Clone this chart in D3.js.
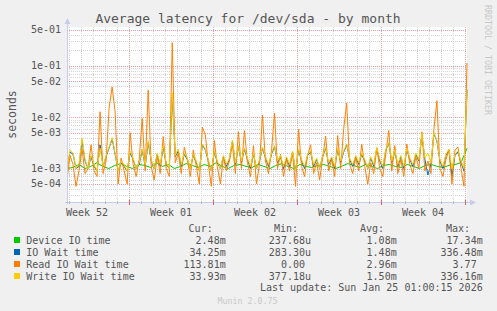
<!DOCTYPE html>
<meta charset="utf-8">
<script src="https://d3js.org/d3.v7.min.js"></script>
<style>
  body { margin: 0; background: #f0f0f0; }
  text { font-family: "DejaVu Sans Mono", monospace; }
</style>
<div id="chart"></div>
<script>

// series names and colours (munin palette)
const seriesNames = ["Device IO time", "IO Wait time", "Read IO Wait time", "Write IO Wait time"];
const seriesColors = ["#00cc00", "#0066b3", "#ff8000", "#ffcc00"];

// values in milliseconds, evenly spaced over the month
const deviceMs = [1.0, 1.05, 1.2, 1.0, 1.1, 1.3, 1.1, 1.0, 1.15, 1.25, 1.1, 1.0, 1.2, 1.15, 1.05, 1.3, 1.1, 1.2, 1.0, 1.1,
  1.25, 1.15, 1.05, 1.2, 1.1, 1.3, 1.1, 1.0, 1.15, 1.2, 1.1, 1.05, 1.2, 1.1, 1.0, 1.15, 1.25, 1.1, 1.0, 1.2,
  1.1, 1.05, 1.15, 1.2, 1.1, 1.0, 1.1, 1.25, 1.15, 1.05, 1.2, 1.1, 1.0, 1.15, 1.2, 1.1, 1.05, 1.2, 1.1, 1.0,
  1.15, 1.2, 1.1, 1.05, 1.15, 1.2, 1.3, 2.48];
const ioWaitMs = [0.9, 2.1, 1.9, 1.0, 1.1, 3.5, 1.4, 1.0, 1.7, 1.1, 0.9, 2.9, 1.1, 1.7, 2.5, 3.8, 1.9, 0.9, 1.3, 1.1,
  0.9, 2.0, 1.5, 1.0, 1.2, 2.3, 1.1, 3.2, 1.4, 1.0, 1.9, 1.1, 2.6, 1.2, 1.0, 25, 1.7, 2.2, 1.1, 1.9,
  1.5, 1.0, 1.8, 1.3, 0.9, 2.9, 2.3, 1.4, 0.9, 2.1, 1.3, 1.0, 1.7, 1.1, 1.5, 3.4, 1.2, 2.7, 1.3, 2.4,
  1.5, 1.0, 1.9, 1.0, 1.4, 2.5, 1.6, 1.1, 1.9, 2.7, 1.3, 1.7, 1.0, 1.6, 1.1, 2.1, 0.9, 2.3, 1.4, 1.0,
  1.8, 2.1, 1.1, 1.5, 1.0, 1.7, 2.5, 1.2, 1.6, 1.0, 2.4, 1.3, 2.1, 2.9, 1.5, 1.1, 1.7, 1.2, 1.9, 1.4,
  1.0, 1.6, 1.1, 2.5, 1.4, 1.0, 2.3, 3.1, 1.3, 2.2, 1.1, 1.7, 1.0, 2.4, 1.5, 1.1, 1.9, 1.4, 4.6, 1.5,
  0.75, 1.2, 4.8, 3.4, 1.4, 1.0, 1.8, 2.3, 0.7, 1.8, 2.1, 1.3, 0.9, 34.25];
const readMs = [0.6, 1.8, 1.2, 0.45, 0.9, 2.4, 0.8, 1.0, 2.9, 0.9, 0.7, 12.8, 0.8, 1.4, 15, 39, 12.8, 0.5, 1.6, 0.9,
  0.5, 5, 1.2, 0.7, 1.5, 9.5, 0.9, 34, 1.1, 0.6, 1.7, 0.8, 4.2, 1.0, 0.7, 283, 1.3, 2.0, 0.8, 2.6,
  1.5, 0.7, 2.3, 1.1, 0.5, 6.4, 4.5, 1.2, 0.45, 3.5, 1.1, 0.5, 1.6, 0.9, 1.4, 3.0, 0.8, 5.2, 1.0, 5.5,
  1.3, 0.7, 2.8, 0.5, 1.2, 11, 1.4, 0.8, 2.2, 12, 1.0, 1.9, 0.7, 1.5, 0.9, 2.0, 0.45, 5.8, 1.1, 0.7,
  1.8, 2.9, 0.8, 1.3, 0.6, 1.6, 4.3, 0.9, 1.5, 0.7, 4.4, 1.0, 6, 19, 1.2, 0.8, 1.6, 0.9, 3.0, 1.1,
  0.5, 1.3, 0.8, 2.5, 1.0, 0.7, 1.9, 5.5, 0.9, 2.8, 0.8, 1.5, 0.7, 3.0, 1.2, 0.8, 1.7, 1.0, 5.2, 0.9,
  1.4, 0.8, 5.8, 21, 1.0, 0.7, 1.5, 2.3, 0.5, 2.3, 2.6, 1.0, 0.45, 113.8];
const writeMs = [0.9, 2.3, 2.0, 1.0, 1.2, 3.9, 1.5, 1.0, 1.8, 1.2, 0.9, 2.5, 1.1, 1.8, 2.6, 4.0, 2.0, 0.9, 1.4, 1.2,
  0.9, 2.2, 1.6, 1.0, 1.3, 2.4, 1.2, 3.5, 1.5, 1.0, 2.0, 1.2, 2.8, 1.3, 1.0, 30, 1.8, 2.4, 1.2, 2.0,
  1.6, 1.0, 1.9, 1.4, 0.9, 3.0, 2.4, 1.5, 0.9, 2.2, 1.4, 1.0, 1.8, 1.2, 1.6, 3.6, 1.3, 2.8, 1.4, 2.5,
  1.6, 1.1, 2.0, 1.0, 1.5, 2.6, 1.7, 1.2, 2.0, 2.8, 1.4, 1.8, 1.1, 1.7, 1.2, 2.2, 0.9, 2.4, 1.5, 1.1,
  1.9, 2.2, 1.2, 1.6, 1.0, 1.8, 2.6, 1.3, 1.7, 1.1, 2.5, 1.4, 2.2, 3.0, 1.6, 1.2, 1.8, 1.3, 2.0, 1.5,
  1.0, 1.7, 1.2, 2.6, 1.5, 1.1, 2.4, 3.2, 1.4, 2.3, 1.2, 1.8, 1.1, 2.5, 1.6, 1.2, 2.0, 1.5, 4.8, 1.6,
  2.0, 1.3, 5.0, 3.5, 1.5, 1.1, 1.9, 2.4, 1.0, 1.9, 2.2, 1.4, 1.0, 33.9];

// legend statistics
const curVals = ["2.48m", "34.25m", "113.81m", "33.93m"];
const minVals = ["237.68u", "283.30u", "0.00", "377.18u"];
const avgVals = ["1.08m", "1.48m", "2.96m", "1.50m"];
const maxVals = ["17.34m", "336.48m", "3.77", "336.16m"];

// y tick values
const yMajor = [5e-4, 1e-3, 5e-3, 1e-2, 5e-2, 1e-1, 5e-1];

const W = 497, H = 311;
const plot = {left: 67, right: 467, top: 27, bottom: 202};

const endTime = new Date(Date.UTC(2026, 0, 25, 4, 0, 0));
const startTime = new Date(endTime.getTime() - 800 * 3600 * 1000);

const svg = d3.select("#chart").append("svg")
  .attr("width", W).attr("height", H)
  .style("display", "block");

svg.append("rect").attr("width", W).attr("height", H).attr("fill", "#f0f0f0");
svg.append("rect")
  .attr("x", plot.left).attr("y", plot.top)
  .attr("width", plot.right - plot.left).attr("height", plot.bottom - plot.top)
  .attr("fill", "#ffffff");

const x = d3.scaleUtc().domain([startTime, endTime]).range([plot.left, plot.right]);
const y = d3.scaleLog().domain([2.23e-4, 0.572]).range([plot.bottom, plot.top]);

// grid: minor
const grid = svg.append("g").attr("shape-rendering", "crispEdges");
const minorY = [];
for (let e = -4; e <= -1; e++) {
  for (let m = 2; m <= 9; m++) {
    if (m === 5) continue;
    const v = m * Math.pow(10, e);
    if (v > y.domain()[0] && v < y.domain()[1]) minorY.push(v);
  }
}
grid.selectAll(".hmin").data(minorY).join("line")
  .attr("x1", plot.left).attr("x2", plot.right)
  .attr("y1", d => Math.round(y(d)) + 0.5).attr("y2", d => Math.round(y(d)) + 0.5)
  .attr("stroke", "#d4d4d4").attr("stroke-dasharray", "1,1");

const days = d3.utcDay.range(startTime, endTime);
grid.selectAll(".vmin").data(days).join("line")
  .attr("x1", d => Math.round(x(d)) + 0.5).attr("x2", d => Math.round(x(d)) + 0.5)
  .attr("y1", plot.top).attr("y2", plot.bottom)
  .attr("stroke", "#d4d4d4").attr("stroke-dasharray", "1,1");

// grid: major
grid.selectAll(".hmaj").data(yMajor).join("line")
  .attr("x1", plot.left).attr("x2", plot.right)
  .attr("y1", d => Math.round(y(d)) + 0.5).attr("y2", d => Math.round(y(d)) + 0.5)
  .attr("stroke", "#e8a0a0").attr("stroke-dasharray", "1,1");

const sundays = d3.utcSunday.range(startTime, endTime);
grid.selectAll(".vmaj").data(sundays).join("line")
  .attr("x1", d => Math.round(x(d)) + 0.5).attr("x2", d => Math.round(x(d)) + 0.5)
  .attr("y1", plot.top).attr("y2", plot.bottom)
  .attr("stroke", "#e8a0a0").attr("stroke-dasharray", "1,1");

// lines
svg.append("clipPath").attr("id", "clip")
  .append("rect").attr("x", plot.left).attr("y", plot.top - 2)
  .attr("width", plot.right - plot.left + 1).attr("height", plot.bottom - plot.top + 2);

const allSeries = [deviceMs, ioWaitMs, readMs, writeMs];
const line = d3.line().x(d => x(d.t)).y(d => y(d.v));
allSeries.forEach((vals, k) => {
  const step = (endTime - startTime) / (vals.length - 1);
  const pts = vals.map((v, i) => ({t: new Date(startTime.getTime() + i * step), v: v / 1000}));
  svg.append("path")
    .datum(pts)
    .attr("clip-path", "url(#clip)")
    .attr("fill", "none")
    .attr("stroke", seriesColors[k])
    .attr("stroke-width", 1)
    .attr("d", line);
});

// axes
const axisColor = "#c8cbec";
svg.append("line").attr("x1", plot.left + 0.5).attr("x2", plot.left + 0.5)
  .attr("y1", plot.bottom + 2).attr("y2", plot.top - 4).attr("stroke", axisColor);
svg.append("path").attr("d", `M${plot.left - 2.5},${plot.top - 3} L${plot.left + 3.5},${plot.top - 3} L${plot.left + 0.5},${plot.top - 9} Z`)
  .attr("fill", axisColor);
svg.append("line").attr("x1", plot.left - 2).attr("x2", plot.right + 4)
  .attr("y1", plot.bottom + 0.5).attr("y2", plot.bottom + 0.5).attr("stroke", axisColor);
svg.append("path").attr("d", `M${plot.right + 3},${plot.bottom - 2.5} L${plot.right + 3},${plot.bottom + 3.5} L${plot.right + 9},${plot.bottom + 0.5} Z`)
  .attr("fill", axisColor);

// axis ticks
svg.selectAll(".tmin").data(days).join("line")
  .attr("x1", d => Math.round(x(d)) + 0.5).attr("x2", d => Math.round(x(d)) + 0.5)
  .attr("y1", plot.bottom - 1).attr("y2", plot.bottom + 2)
  .attr("stroke", "#bbbbbb");
svg.selectAll(".tmaj").data(sundays).join("line")
  .attr("x1", d => Math.round(x(d)) + 0.5).attr("x2", d => Math.round(x(d)) + 0.5)
  .attr("y1", plot.bottom - 2).attr("y2", plot.bottom + 3)
  .attr("stroke", "#e06060");

// y labels
function fmtExp(v) {
  const s = v.toExponential(0).split("e");
  const e = parseInt(s[1], 10);
  return s[0] + "e" + (e < 0 ? "-" : "+") + String(Math.abs(e)).padStart(2, "0");
}
svg.selectAll(".ylab").data(yMajor).join("text")
  .attr("x", 61).attr("y", d => y(d) + 3.5)
  .attr("text-anchor", "end")
  .attr("font-size", 10).attr("fill", "#555")
  .text(fmtExp);

// x labels (week centred)
const weekStarts = d3.utcSunday.range(d3.utcSunday.offset(startTime, -1), endTime);
const weekLabels = weekStarts
  .map(s => new Date(s.getTime() + 3.5 * 86400000))
  .filter(c => x(c) > plot.left + 15 && x(c) < plot.right - 15);
svg.selectAll(".xlab").data(weekLabels).join("text")
  .attr("x", d => x(d)).attr("y", 216)
  .attr("text-anchor", "middle")
  .attr("font-size", 10).attr("fill", "#555")
  .text(d => "Week " + d3.utcFormat("%V")(d));

// title and side texts
svg.append("text").attr("x", 248).attr("y", 23)
  .attr("text-anchor", "middle").attr("font-size", 13).attr("fill", "#555")
  .text("Average latency for /dev/sda - by month");

svg.append("text")
  .attr("transform", "translate(15.5,114.5) rotate(-90)")
  .attr("text-anchor", "middle").attr("font-size", 11.5).attr("fill", "#555")
  .text("seconds");

svg.append("text")
  .attr("transform", "translate(485,5) rotate(90)")
  .attr("text-anchor", "start").attr("font-size", 8.3).attr("fill", "#c8c8c8")
  .text("RRDTOOL / TOBI OETIKER");

// legend
const legendFont = 10, charW = 6.02;
const hdr = [["Cur:", 212.7], ["Min:", 298], ["Avg:", 384], ["Max:", 470]];
svg.selectAll(".hdr").data(hdr).join("text")
  .attr("x", d => d[1]).attr("y", 231.8)
  .attr("text-anchor", "end").attr("font-size", legendFont).attr("fill", "#555")
  .text(d => d[0]);

const colRight = [225.7, 311, 396.7, 482.7];
const cols = [curVals, minVals, avgVals, maxVals];
seriesNames.forEach((name, k) => {
  const cy = 240 + k * 12;
  svg.append("rect").attr("x", 14).attr("y", cy - 3).attr("width", 6).attr("height", 6)
    .attr("fill", seriesColors[k]);
  svg.append("text").attr("x", 26.3).attr("y", cy + 3.5)
    .attr("font-size", legendFont).attr("fill", "#555").text(name);
  cols.forEach((col, c) => {
    const s = col[k];
    const hasUnit = /[a-zA-Z]$/.test(s);
    svg.append("text")
      .attr("x", colRight[c] - (hasUnit ? 0 : charW)).attr("y", cy + 3.5)
      .attr("text-anchor", "end").attr("font-size", legendFont).attr("fill", "#555")
      .text(s);
  });
});

svg.append("text").attr("x", 482.7).attr("y", 291)
  .attr("text-anchor", "end").attr("font-size", legendFont).attr("fill", "#555")
  .text("Last update: Sun Jan 25 01:00:15 2026");

svg.append("text").attr("x", 247.5).attr("y", 303.5)
  .attr("text-anchor", "middle").attr("font-size", 8.3).attr("fill", "#c8c8c8")
  .text("Munin 2.0.75");

</script>
